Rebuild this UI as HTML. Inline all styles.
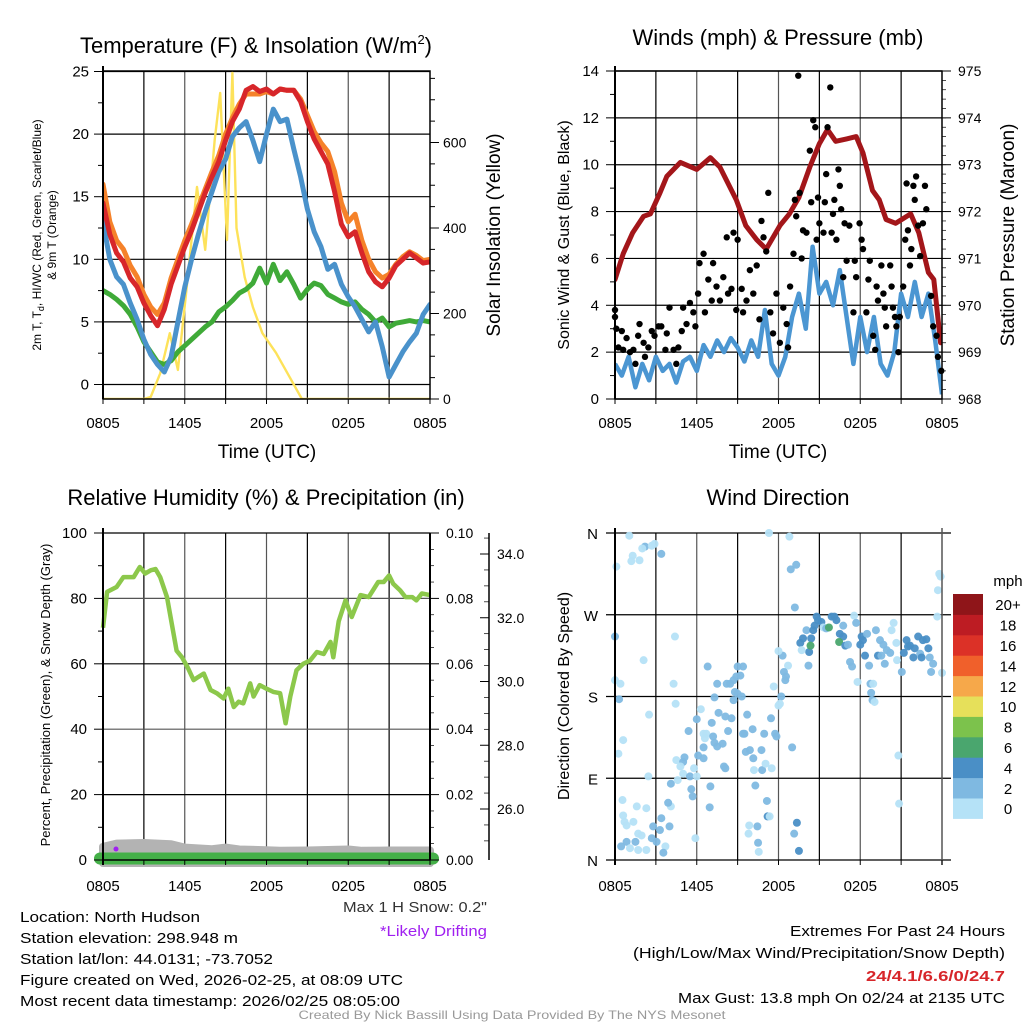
<!DOCTYPE html>
<html><head><meta charset="utf-8"><title>Mesonet Station Summary</title>
<style>
html,body{margin:0;padding:0;background:#fff;}
svg{display:block;font-family:"Liberation Sans",Arial,sans-serif;}
</style></head>
<body>
<svg id="root" width="1024" height="1024" viewBox="0 0 1024 1024" xmlns="http://www.w3.org/2000/svg">
<defs>
<clipPath id="c1"><rect x="103" y="71" width="327" height="328"/></clipPath>
<clipPath id="c2"><rect x="615" y="71" width="327" height="328"/></clipPath>
</defs>
</svg>
<script>
// ---------- DATA ----------
const tempHours = [0,0.5,1,1.5,2,2.5,3,3.5,4,4.5,5,5.5,6,6.5,7,7.5,8,8.5,9,9.5,10,10.5,11,11.5,12,12.5,13,13.5,14,14.5,15,15.5,16,16.5,17,17.5,18,18.5,19,19.5,20,20.5,21,21.5,22,22.5,23,23.5,24];
const redTemp = [14.5,12,10.5,9.8,8.5,7.8,6.5,5.5,4.7,6,8,9.5,11,12.3,13.8,15.3,16.6,17.8,19.5,21,22,23.5,23.8,23.4,23.6,23.2,23.6,23.5,23.5,22.6,21,19.6,18.6,17.6,15.4,12.8,11.8,12.2,10.5,9,8.2,7.8,8.5,9.5,10,10.5,10.1,9.7,9.8];
const orangeTemp = [16,13,11.5,10.8,9.5,8.6,7.2,6.2,5.6,6.5,8.5,10,11.5,12.8,14.2,15.6,17,18.3,20,21.3,22.4,23.2,23.2,23.2,23.4,23.2,23.6,23.5,23.5,22.8,21.5,20.2,19.3,18.6,17,14.5,13,13.6,11.5,10,9,8.5,8.8,9.6,10.2,10.6,10.3,9.9,10.0];
const blueWC = [13,10,8.6,8,6.5,5.2,3.6,2.4,1.6,1.0,2.2,5,7.8,10,12,13.8,15.4,17,18,19.8,20.5,21,19.5,17.8,20,22,21,21.2,18.8,16.6,14,12.2,11,9.2,9.6,8,7,6.2,5.2,4.2,5,3,0.6,1.6,2.6,3.4,4.1,5.6,6.4];
const greenTd = [7.5,7.2,6.8,6.3,5.6,4.6,3.4,2.6,1.8,1.6,1.9,2.6,3.1,3.6,4.1,4.6,5.0,5.8,6.2,6.7,7.3,7.6,8.1,9.3,8.1,9.6,8.3,9.0,8.0,6.9,7.6,8.1,7.9,7.2,6.9,6.6,6.4,6.6,6.0,5.6,5.0,5.3,4.6,4.9,5.0,5.1,5.0,5.1,5.0];
const solarHours = [0,3.0,3.5,4.2,4.9,5.5,6.1,6.9,7.5,8.2,8.6,9.1,9.5,9.8,10.4,11,11.7,12.7,13.7,14.6,24];
const solarVals = [0,0,5,60,154,68,248,496,349,606,716,372,763,400,285,215,154,108,51,0,0];
const tempTicks = [0,5,10,15,20,25];
const solarTicks = [0,200,400,600];
const timeLabels = ["0805","1405","2005","0205","0805"];

const windHours = tempHours;
const sonicWind = [1.5,1,1.8,0.5,1.5,0.8,1.8,1.2,1.5,0.7,1.6,1.8,1.2,2.3,1.8,2.5,2.0,2.6,2.2,1.6,2.5,1.8,3.8,1.5,1.0,1.8,3.5,4.5,3.0,6.5,4.5,5.0,4.0,5.5,3.5,1.5,3.5,2.0,3.5,1.5,1.0,2.0,4.5,3.5,5.0,3.5,4.5,2.5,0.2];
const pressureHours = [0,0.6,1.3,2.1,2.6,3.3,3.8,4.8,6.0,7.0,7.7,8.9,9.6,10.4,11.1,12.1,12.8,13.5,14.3,15.0,15.6,16.2,17.0,17.7,18.2,18.9,19.4,19.9,20.6,21.7,22.3,23.0,23.4,23.9];
const pressureMb = [970.55,971.1,971.55,971.9,971.95,972.4,972.75,973.05,972.9,973.15,972.95,972.25,971.7,971.4,971.2,971.7,971.95,972.3,972.95,973.45,973.75,973.5,973.55,973.6,973.25,972.45,972.25,971.83,971.75,971.95,971.55,970.7,970.55,969.2];
const gustHours = [0,0,0.1,0.25,0.5,0.6,0.85,1.1,1.35,1.5,1.7,1.8,2.1,2.2,2.45,2.7,2.9,3.2,3.4,3.7,3.8,4.0,4.3,4.5,4.65,4.9,5.0,5.25,5.5,5.75,5.9,6.1,6.2,6.5,6.6,6.85,7.1,7.2,7.45,7.7,7.95,8.2,8.3,8.55,8.7,8.9,9.0,9.3,9.4,9.65,9.9,10.15,10.4,10.6,10.75,10.9,11.1,11.25,11.4,11.6,11.85,12.1,12.35,12.6,12.7,12.85,13.1,13.2,13.3,13.45,13.55,13.7,13.8,14.05,14.3,14.4,14.55,14.7,14.8,14.9,15.0,15.3,15.4,15.5,15.6,15.8,15.9,16.0,16.1,16.25,16.4,16.5,16.6,16.75,16.85,17.0,17.2,17.5,17.6,17.7,17.95,18.1,18.2,18.45,18.6,18.7,18.95,19.1,19.2,19.3,19.55,19.7,19.8,19.9,20.2,20.3,20.4,20.55,20.65,20.8,20.9,21.15,21.3,21.4,21.5,21.65,21.75,21.9,22.0,22.1,22.25,22.4,22.6,22.75,22.85,23.2,23.35,23.6,23.7,23.95];
const gustMph = [3.8,3.5,3.0,2.2,2.9,2.1,2.6,2.0,2.1,1.5,2.7,3.2,2.4,1.8,2.2,2.9,2.7,3.1,3.1,2.1,2.8,3.9,2.1,1.5,2.2,2.9,3.9,3.2,4.1,3.7,3.1,4.5,5.8,6.2,3.7,5.1,4.2,5.8,4.8,4.2,5.2,6.9,4.5,4.7,7.1,3.8,6.8,4.7,3.7,4.2,5.5,4.5,5.7,3.4,7.6,6.9,6.3,8.8,3.7,2.8,4.5,2.4,3.9,3.2,2.2,4.8,6.2,8.5,7.8,13.8,8.8,6.0,7.2,7.1,10.6,8.4,11.9,11.6,6.8,8.6,7.5,7.1,8.4,9.6,11.6,13.3,7.1,7.9,8.5,6.8,9.8,9.1,8.1,5.2,7.5,5.9,7.4,3.7,5.9,5.2,7.5,6.8,6.4,3.7,5.1,5.9,2.7,2.1,4.8,4.2,5.7,4.5,3.9,3.1,5.7,4.8,3.9,3.5,3.1,2.0,3.5,4.8,6.8,9.2,7.2,5.7,6.4,9.1,8.5,9.5,7.4,6.1,7.5,9.1,8.1,4.4,3.1,2.7,1.8,1.2];
const windTicks = [0,2,4,6,8,10,12,14];
const pressureTicks = [968,969,970,971,972,973,974,975];

const rhHours = [0,0.3,1.0,1.5,2.25,2.7,3.1,3.5,3.85,4.2,4.7,5.1,5.4,5.8,6.2,6.65,7.0,7.4,7.9,8.35,8.85,9.2,9.6,9.95,10.3,10.8,11.05,11.5,12.0,12.5,13.0,13.4,13.75,14.2,14.7,15.2,15.7,16.2,16.7,16.9,17.3,17.8,18.25,18.9,19.5,20.2,20.6,21.0,21.3,21.8,22.2,22.7,23.0,23.4,24.0];
const rhVals = [71,82,83.5,86.5,86.5,89.6,87.6,88.6,89,86.5,80.4,71,64,62,59,55,56,57,52,51,49.4,52.4,46.8,48.4,47.9,54,50,53.5,52.4,51.4,51,41.8,50,58,60,61,63.6,63,66.7,62,73,79.4,74.3,81,80.4,85,85,87,84.5,82.5,80.4,80.4,79.4,81.5,81];
const snowHours = [0,1,3,5,6,8,9,10,12,13,15,18,19,21,24];
const snowPct = [4.0,5.0,5.2,4.8,3.8,3.3,3.8,3.2,3.0,2.8,2.9,3.2,2.8,2.9,2.9];
const rhTicks = [0,20,40,60,80,100];
const precipTicks = ["0.00","0.02","0.04","0.06","0.08","0.10"];
const snowDepthTicks = [26,28,30,32,34];

const dirHours = [1.05,2.2,2.7,2.9,2.0,3.4,1.3,1.2,1.8,0.1,0,4.4,2.1,0,0.4,0.3,4.3,4.45,2.5,0.6,0.25,2.45,0.55,0.7,1.6,2.3,1.35,0.85,0.6,0.45,0.85,1.5,1.7,1.95,1.1,1.7,2.3,2.8,2.7,3.05,3.3,3.4,3.7,3.55,4.0,4.1,3.9,4.1,4.5,4.6,5.0,5.1,4.8,5.0,5.5,5.6,5.7,5.9,6.0,5.8,6.1,6.5,6.5,5.4,6.0,6.3,6.5,6.7,6.6,7.2,7.3,7.5,7.9,7.1,6.8,7.3,7.5,7.6,8.1,8.3,8.55,8.0,8.1,7.0,6.95,8.2,8.45,8.7,8.9,9.2,9.0,9.4,8.8,9.0,9.3,8.7,9.7,9.5,9.4,10.1,9.6,9.9,10.15,10.3,10.75,10.8,10.2,11.05,11.5,10.95,11.45,11.75,11.85,11.65,12.2,12.1,12.0,12.5,12.7,12.4,12.55,12.3,12.0,11.3,12.8,12.9,13.3,13.2,13.0,13.35,13.15,13.5,11.2,11.35,11.15,10.45,9.85,9.8,10.5,10.55,13.6,13.8,14.05,14.25,13.7,14.2,14.4,14.55,14.65,14.8,14.9,15.15,15.3,15.5,15.7,14.35,15.9,16.1,16.25,16.5,16.75,16.45,16.9,16.75,17.1,17.25,17.4,17.55,17.7,17.8,18.0,18.1,18.2,18.35,18.65,18.75,18.95,18.8,18.9,19.05,18.5,19.15,19.3,19.45,19.55,19.7,19.8,19.95,20.2,20.3,20.45,20.65,20.7,20.8,20.85,21.05,21.2,21.4,21.5,21.65,21.9,22.0,22.25,22.4,22.5,22.6,22.85,23.0,23.1,23.2,23.35,23.65,23.7,23.8,23.9,24.0];
const dirDeg = [357,345,346,348,343,337,335,329,330,323,246,246,220,198,194,177,194,172,160,132,117,92,66,42,59,57,42,38,49,15,20,20,29,27,13,11,11,37,24,20,33,46,15,8,37,59,63,84,110,88,108,113,103,95,92,78,70,24,92,101,115,112,124,142,155,166,139,139,134,136,129,125,128,151,213,179,194,162,158,142,156,103,101,81,58,194,194,198,202,203,213,213,185,183,180,176,160,139,139,144,119,121,112,82,121,99,99,106,101,139,156,139,136,191,180,172,170,198,214,207,202,225,230,360,356,320,325,278,124,41,29,10,48,48,65,37,38,29,19,9,239,244,253,229,231,214,244,253,258,268,264,262,256,255,256,236,268,268,264,249,246,240,236,258,237,218,213,269,261,196,237,246,242,225,214,194,194,184,176,174,249,253,225,242,225,237,216,231,228,253,261,239,220,115,62,207,228,242,235,236,223,233,246,227,223,242,243,233,223,207,216,268,297,315,312,206];
const dirSpeed = [1,3,1,1,1,3,1,1,1,1,3,1,1,1,1,3,1,1,1,1,1,1,1,1,1,1,1,1,1,3,3,3,1,1,1,1,1,3,3,3,3,3,1,3,3,1,3,3,1,1,3,3,1,1,3,3,3,1,1,1,3,3,3,3,3,1,1,1,1,3,3,3,3,3,3,3,3,3,3,3,3,3,3,3,3,3,3,3,3,3,3,3,3,3,3,3,3,3,3,3,3,3,3,3,3,3,1,1,1,3,3,3,3,1,3,1,1,3,1,3,3,3,1,1,1,3,3,3,3,5,3,5,5,1,3,3,1,1,3,1,5,5,3,5,1,3,5,5,5,5,5,5,1,3,7,7,5,5,5,5,5,7,5,3,3,3,3,1,3,1,5,5,5,5,3,3,1,3,3,1,3,3,5,3,3,3,3,3,3,1,1,1,1,1,1,3,5,5,5,5,5,5,5,3,5,5,5,5,3,3,3,1,1,1,1];
const dirLabels = ["N","E","S","W","N"];
const speedBins = ["0","2","4","6","8","10","12","14","16","18","20+"];
const binColors = ["#b5e2f7","#7fb9e1","#4a8fc6","#4aa66e","#7cc24c","#e6e05a","#f6a84a","#f0602b","#dc3127","#bd1c23","#8f1519"];

// ---------- HELPERS ----------
const NS = "http://www.w3.org/2000/svg";
const root = document.getElementById("root");
function mk(tag, attrs, parent) {
  const e = document.createElementNS(NS, tag);
  for (const k in attrs) e.setAttribute(k, attrs[k]);
  (parent || root).appendChild(e);
  return e;
}
function txt(s, x, y, size, anchor, parent, extra) {
  const e = mk("text", Object.assign({x:x, y:y, "font-size":size, "text-anchor":anchor||"start", fill:"#000"}, extra||{}), parent);
  e.textContent = s;
  return e;
}
function scale(d0, d1, r0, r1) { return v => r0 + (v - d0) * (r1 - r0) / (d1 - d0); }
function pathFrom(xs, ys, sx, sy) {
  return xs.map((h, i) => (i ? "L" : "M") + sx(h).toFixed(1) + "," + sy(ys[i]).toFixed(1)).join("");
}

// ---------- PANEL 1 ----------
(function(){
  const L=103, R=430, T=71, B=399;
  const g = mk("g", {});
  
  
  const sx = scale(0, 24, L, R);
  const sy = scale(0, 25, 384.5, 71.5);
  const ss = scale(0, 200, 399, 313.5);
  for (let h = 3; h < 24; h += 3) {
    const l = mk("line", {x1:sx(h), x2:sx(h), y1:T, y2:B, stroke: h%6===0?"#555":"#000", "stroke-width":1.2}, g);
    
    
  }
  tempTicks.forEach(v => {
    const l = mk("line", {x1:L, x2:R, y1:sy(v), y2:sy(v), stroke:"#000", "stroke-width":1.2}, g);
    
    
  });
  const cg = mk("g", {"clip-path":"url(#c1)"}, g);
  const sol = mk("path", {d: pathFrom(solarHours, solarVals, sx, ss), fill:"none", stroke:"#fde25a", "stroke-width":2.4, "stroke-linejoin":"round"}, cg);
  
  
  const series = [[greenTd,"#3faa38","dewpoint-line"],[blueWC,"#4a92cb","windchill-line"],[orangeTemp,"#f5822a","9m-temperature-line"],[redTemp,"#d7262a","2m-temperature-line"]];
  series.forEach(s => {
    const p = mk("path", {d: pathFrom(tempHours, s[0], sx, sy), fill:"none", stroke:s[1], "stroke-width":5, "stroke-linejoin":"round", "stroke-linecap":"round"}, cg);
    
    
  });
  mk("rect", {x:L, y:T, width:R-L, height:B-T, fill:"none", stroke:"#000", "stroke-width":1.5}, g);
  mk("line", {x1:L, x2:L, y1:T-5, y2:B, stroke:"#000", "stroke-width":2}, g);
  tempTicks.forEach(v => {
    mk("line", {x1:L-9, x2:L, y1:sy(v), y2:sy(v), stroke:"#000"}, g);
    const t = txt(String(v), L-14, sy(v)+5, 15, "end", g);
    
    
  });
  for (let v = 2.5; v < 25; v += 5) mk("line", {x1:L-5, x2:L, y1:sy(v), y2:sy(v), stroke:"#000"}, g);
  solarTicks.forEach(v => {
    mk("line", {x1:R, x2:R+9, y1:ss(v), y2:ss(v), stroke:"#000"}, g);
    const t = txt(String(v), R+13, ss(v)+5, 14, "start", g);
    
    
  });
  for (let v = 50; v < 760; v += 50) if (v % 200) mk("line", {x1:R, x2:R+5, y1:ss(v), y2:ss(v), stroke:"#000"}, g);
  for (let h = 0; h <= 24; h += 3) mk("line", {x1:sx(h), x2:sx(h), y1:B, y2:B+5, stroke:"#000"}, g);
  timeLabels.forEach((s,i) => {
    const t = txt(s, sx(i*6), B+29, 15, "middle", g);
    
    
  });
  const xt = txt("Time (UTC)", 267, 458, 19, "middle", g);
  
  
  const title = txt("Temperature (F) & Insolation (W/m", 256, 53, 22, "middle", g);
  const sup = mk("tspan", {"font-size":13, dy:-9}, title); sup.textContent = "2";
  const cl = mk("tspan", {dy:9}, title); cl.textContent = ")";
  
  
  const yl1 = txt("", 0, 0, 12, "middle", g, {transform:"translate(41,235) rotate(-90)"});
  yl1.innerHTML = '2m T, T<tspan font-size="9" dy="3">d</tspan><tspan dy="-3">, HI/WC (Red, Green, Scarlet/Blue)</tspan>';
  
  
  const yl2 = txt("& 9m T (Orange)", 0, 0, 12, "middle", g, {transform:"translate(56,235) rotate(-90)"});
  
  
  const yr = txt("Solar Insolation (Yellow)", 0, 0, 19, "middle", g, {transform:"translate(500,235) rotate(-90)"});
  
  
})();

// ---------- PANEL 2 ----------
(function(){
  const L=615, R=942, T=71, B=399;
  const g = mk("g", {});
  
  
  const sx = scale(0, 24, L, R);
  const sy = scale(0, 14, 399, 71);
  const sp = scale(968, 975, 399, 71);
  for (let h = 3; h < 24; h += 3) mk("line", {x1:sx(h), x2:sx(h), y1:T, y2:B, stroke: h%6===0?"#555":"#000", "stroke-width":1.2}, g);
  windTicks.forEach(v => mk("line", {x1:L, x2:R, y1:sy(v), y2:sy(v), stroke:"#000", "stroke-width":1.2}, g));
  const cg = mk("g", {"clip-path":"url(#c2)"}, g);
  const bl = mk("path", {d: pathFrom(windHours, sonicWind, sx, sy), fill:"none", stroke:"#4b96d2", "stroke-width":4.5, "stroke-linejoin":"round"}, cg);
  
  
  const pr = mk("path", {d: pathFrom(pressureHours, pressureMb, sx, sp), fill:"none", stroke:"#a3161a", "stroke-width":5, "stroke-linejoin":"round", "stroke-linecap":"round"}, cg);
  
  
  gustHours.forEach((h,i) => {
    const c = mk("circle", {cx:sx(h), cy:sy(gustMph[i]), r:3.2, fill:"#000"}, g);
    
    
  });
  mk("rect", {x:L, y:T, width:R-L, height:B-T, fill:"none", stroke:"#000", "stroke-width":1.5}, g);
  mk("line", {x1:L, x2:L, y1:T-5, y2:B, stroke:"#000", "stroke-width":2}, g);
  windTicks.forEach(v => {
    mk("line", {x1:L-9, x2:L, y1:sy(v), y2:sy(v), stroke:"#000"}, g);
    const t = txt(String(v), L-16, sy(v)+5, 15, "end", g);
    
    
  });
  for (let v = 1; v < 14; v += 2) mk("line", {x1:L-5, x2:L, y1:sy(v), y2:sy(v), stroke:"#000"}, g);
  pressureTicks.forEach(v => {
    mk("line", {x1:R, x2:R+9, y1:sp(v), y2:sp(v), stroke:"#000"}, g);
    const t = txt(String(v), R+16, sp(v)+5, 14, "start", g);
    
    
  });
  for (let v = 968.2; v < 975; v += 0.2) mk("line", {x1:R, x2:R+4, y1:sp(v), y2:sp(v), stroke:"#000", "stroke-width":0.7}, g);
  for (let h = 0; h <= 24; h += 3) mk("line", {x1:sx(h), x2:sx(h), y1:B, y2:B+5, stroke:"#000"}, g);
  timeLabels.forEach((s,i) => {
    const t = txt(s, sx(i*6), B+29, 15, "middle", g);
    
    
  });
  const xt = txt("Time (UTC)", 778, 458, 19, "middle", g);
  
  
  const ti = txt("Winds (mph) & Pressure (mb)", 778, 45, 22, "middle", g);
  
  
  const yl = txt("Sonic Wind & Gust (Blue, Black)", 0, 0, 16, "middle", g, {transform:"translate(569,235) rotate(-90)"});
  
  
  const yr = txt("Station Pressure (Maroon)", 0, 0, 19, "middle", g, {transform:"translate(1014,235) rotate(-90)"});
  
  
})();

// ---------- PANEL 3 ----------
(function(){
  const L=103, R=430, T=533, B=860;
  const g = mk("g", {});
  
  
  const sx = scale(0, 24, L, R);
  const sy = scale(0, 100, B, T);
  const sd = scale(26, 34, 809, 554);
  for (let h = 3; h < 24; h += 3) mk("line", {x1:sx(h), x2:sx(h), y1:T, y2:B, stroke: h%6===0?"#555":"#000", "stroke-width":1.2}, g);
  rhTicks.forEach(v => mk("line", {x1:L, x2:R, y1:sy(v), y2:sy(v), stroke: v===80||v===40?"#555":"#000", "stroke-width":1.2}, g));
  const sn = mk("path", {d: pathFrom(snowHours, snowPct, sx, sy) + "L" + sx(24) + "," + (B+3) + "L" + sx(0) + "," + (B+3) + "Z", fill:"#b3b3b3", stroke:"#b3b3b3", "stroke-width":8, "stroke-linejoin":"round"}, g);
  
  
  const pc = mk("line", {x1:L-3, x2:R+3, y1:B-1.5, y2:B-1.5, stroke:"#44b048", "stroke-width":12, "stroke-linecap":"round"}, g);
  
  
  const rh = mk("path", {d: pathFrom(rhHours, rhVals, sx, sy), fill:"none", stroke:"#8cc84b", "stroke-width":4.5, "stroke-linejoin":"round"}, g);
  
  
  const dr = mk("circle", {cx:116, cy:849, r:2.5, fill:"#a020f0"}, g);
  
  
  mk("line", {x1:L, x2:L, y1:T-5, y2:B+5, stroke:"#000", "stroke-width":2}, g);
  mk("line", {x1:R, x2:R, y1:T, y2:B, stroke:"#000", "stroke-width":2}, g);
  mk("line", {x1:L, x2:R, y1:B, y2:B, stroke:"#000", "stroke-width":1.5}, g);
  rhTicks.forEach((v,i) => {
    mk("line", {x1:L-9, x2:L, y1:sy(v), y2:sy(v), stroke:"#000"}, g);
    const t = txt(String(v), L-16, sy(v)+5, 15, "end", g);
    
    
    mk("line", {x1:R, x2:R+9, y1:sy(v), y2:sy(v), stroke:"#000"}, g);
    const t2 = txt(precipTicks[i], R+16, sy(v)+5, 14, "start", g);
    
    
  });
  for (let v = 10; v < 100; v += 20) mk("line", {x1:L-5, x2:L, y1:sy(v), y2:sy(v), stroke:"#000"}, g);
  for (let v = 5; v < 100; v += 5) if (v % 20) mk("line", {x1:R, x2:R+4, y1:sy(v), y2:sy(v), stroke:"#000", "stroke-width":0.7}, g);
  const ax = mk("line", {x1:489, x2:489, y1:T, y2:B, stroke:"#000", "stroke-width":1.5}, g);
  
  
  snowDepthTicks.forEach(v => {
    mk("line", {x1:480, x2:489, y1:sd(v), y2:sd(v), stroke:"#000"}, g);
    const t = txt(v.toFixed(1), 497, sd(v)+5, 14, "start", g);
    
    
  });
  for (let v = 25; v <= 34.6; v += 0.5) if (Math.abs(v - Math.round(v/2)*2) > 0.01) mk("line", {x1:484, x2:489, y1:sd(v), y2:sd(v), stroke:"#000", "stroke-width":0.7}, g);
  for (let h = 0; h <= 24; h += 3) mk("line", {x1:sx(h), x2:sx(h), y1:B, y2:B+5, stroke:"#000"}, g);
  timeLabels.forEach((s,i) => {
    const t = txt(s, sx(i*6), B+31, 15, "middle", g);
    
    
  });
  const ti = txt("Relative Humidity (%) & Precipitation (in)", 266, 505, 22, "middle", g);
  
  
  const yl = txt("Percent, Precipitation (Green), & Snow Depth (Gray)", 0, 0, 13, "middle", g, {transform:"translate(50,695) rotate(-90)"});
  
  
})();

// ---------- PANEL 4 ----------
(function(){
  const L=615, R=942, T=533, B=860;
  const g = mk("g", {});
  
  
  const sx = scale(0, 24, L, R);
  const sy = scale(0, 360, B, T);
  for (let h = 3; h < 24; h += 3) mk("line", {x1:sx(h), x2:sx(h), y1:T, y2:B, stroke: h%6===0?"#555":"#000", "stroke-width":1.2}, g);
  dirLabels.forEach((s,i) => mk("line", {x1:L-9, x2:R+9, y1:sy(i*90), y2:sy(i*90), stroke:"#000", "stroke-width":1.2}, g));
  dirHours.forEach((h,i) => {
    const sp = dirSpeed[i] === undefined ? 1 : dirSpeed[i];
    const bin = Math.min(10, Math.floor(sp/2));
    const c = mk("circle", {cx:sx(h), cy:sy(dirDeg[i]), r:4, fill:binColors[bin], "fill-opacity":0.95}, g);
    
    
  });
  mk("line", {x1:L, x2:L, y1:T-5, y2:B+5, stroke:"#000", "stroke-width":2}, g);
  mk("line", {x1:R, x2:R, y1:T-5, y2:B+5, stroke:"#555", "stroke-width":1.5}, g);
  dirLabels.forEach((s,i) => {
    const t = txt(s, L-17, sy(i*90)+6, 15, "end", g);
    
    
  });
  for (let h = 0; h <= 24; h += 3) mk("line", {x1:sx(h), x2:sx(h), y1:B, y2:B+5, stroke:"#000"}, g);
  timeLabels.forEach((s,i) => {
    const t = txt(s, sx(i*6), B+31, 15, "middle", g);
    
    
  });
  const ti = txt("Wind Direction", 778, 505, 22, "middle", g);
  
  
  const yl = txt("Direction (Colored By Speed)", 0, 0, 16, "middle", g, {transform:"translate(569,696) rotate(-90)"});
  
  
  const cb = mk("g", {}, g);
  
  
  const top = 594, bh = 20.4;
  speedBins.forEach((s,i) => {
    const y = top + (10-i)*bh;
    const r = mk("rect", {x:953, y:y, width:30, height:bh+0.5, fill:binColors[i]}, cb);
    
    
    const t = txt(s, 1008, y+bh/2+6, 15, "middle", cb);
    
    
  });
  const u = txt("mph", 1008, 586, 15, "middle", cb);
  
  
})();

// ---------- FOOTER TEXT ----------
(function(){
  const g = mk("g", {});
  
  
  const lines = [["Location: North Hudson",180],["Station elevation: 298.948 m",218],["Station lat/lon: 44.0131; -73.7052",253],["Figure created on Wed, 2026-02-25, at 08:09 UTC",383],["Most recent data timestamp: 2026/02/25 08:05:00",380]];
  lines.forEach((l,i) => {
    const t = txt(l[0], 20, 922 + i*21, 15, "start", g, {textLength:l[1], lengthAdjust:"spacingAndGlyphs"});
    
    
  });
  const s1 = txt('Max 1 H Snow: 0.2"', 487, 912, 15, "end", g, {fill:"#333", textLength:144, lengthAdjust:"spacingAndGlyphs"});
  
  
  const s2 = txt("*Likely Drifting", 487, 936, 15, "end", g, {fill:"#a020f0", textLength:107, lengthAdjust:"spacingAndGlyphs"});
  
  
  const r = [["Extremes For Past 24 Hours",936,215,"#000",""],["(High/Low/Max Wind/Precipitation/Snow Depth)",958,372,"#000",""],["24/4.1/6.6/0/24.7",981,139,"#d7262a","bold"],["Max Gust: 13.8 mph On 02/24 at 2135 UTC",1003,327,"#000",""]];
  r.forEach(l => {
    const t = txt(l[0], 1005, l[1], 15, "end", g, {fill:l[3], "font-weight":l[4]||"normal", textLength:l[2], lengthAdjust:"spacingAndGlyphs"});
    
    
  });
  const f = txt("Created By Nick Bassill Using Data Provided By The NYS Mesonet", 512, 1019, 12, "middle", g, {fill:"#999", textLength:427, lengthAdjust:"spacingAndGlyphs"});
  
  
})();
</script>
</body></html>
